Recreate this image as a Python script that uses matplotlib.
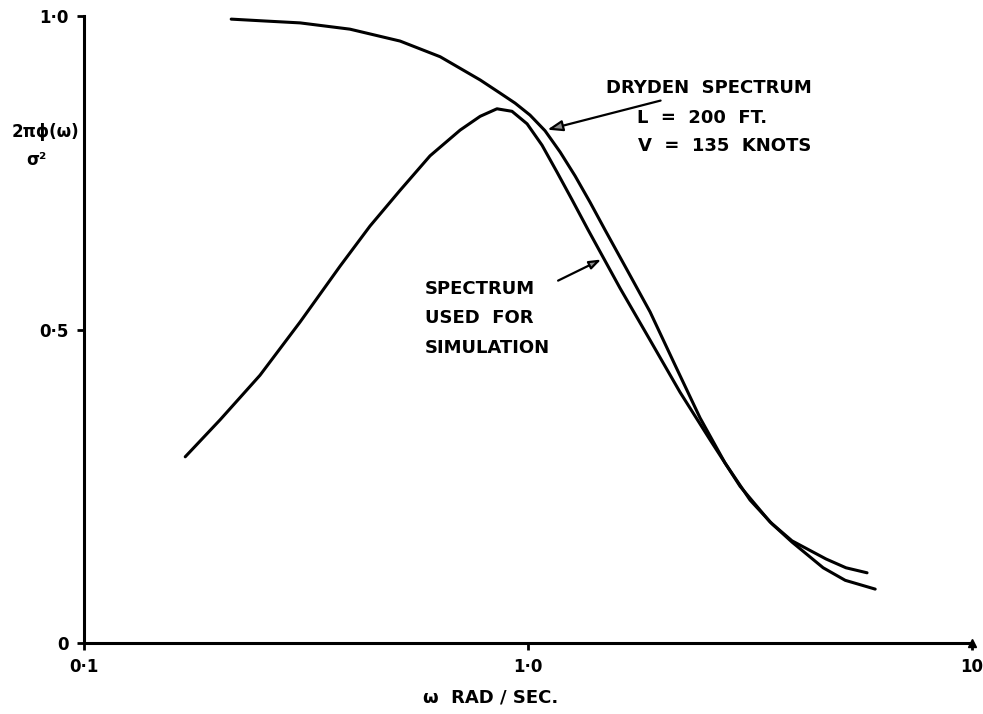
import matplotlib
matplotlib.use("Agg")
import matplotlib.pyplot as plt
import numpy as np

# Dryden spectrum, L = 200 ft, V = 135 knots (normalised 2*pi*phi/sigma^2)
dryden_w = [0.2145, 0.2557, 0.3066, 0.397, 0.515, 0.634, 0.780, 0.865, 0.935,
            1.010, 1.092, 1.181, 1.276, 1.379, 1.49, 1.680, 1.883, 2.144, 2.44,
            2.778, 3.162, 3.544, 3.93, 4.62, 5.18, 6.05]
dryden_s = [0.995, 0.992, 0.989, 0.979, 0.960, 0.935, 0.898, 0.877, 0.861,
            0.842, 0.817, 0.783, 0.745, 0.703, 0.659, 0.592, 0.528, 0.443, 0.359,
            0.287, 0.228, 0.190, 0.161, 0.120, 0.100, 0.086]

# spectrum used for the simulation
sim_w = [0.169, 0.2025, 0.249, 0.3066, 0.3772, 0.4406, 0.515, 0.6015, 0.703,
         0.780, 0.851, 0.920, 0.995, 1.075, 1.162, 1.256, 1.365, 1.611, 1.883,
         2.199, 2.570, 3.002, 3.508, 3.93, 4.69, 5.20, 5.80]
sim_s = [0.297, 0.356, 0.427, 0.512, 0.601, 0.665, 0.722, 0.777, 0.818,
         0.840, 0.852, 0.848, 0.828, 0.794, 0.751, 0.707, 0.659, 0.566, 0.483,
         0.400, 0.324, 0.250, 0.193, 0.163, 0.134, 0.120, 0.112]

x_ticks = [0.1, 1.0, 10]
x_ticklabels = ["0·1", "1·0", "10"]
y_ticks = [0, 0.5, 1.0]
y_ticklabels = ["0", "0·5", "1·0"]

plt.rcParams["font.family"] = ["DejaVu Sans"]

fig = plt.figure(figsize=(9.83, 7.14), dpi=100)
ax = fig.add_axes([0.0855, 0.0994, 0.9034, 0.8782])

ax.plot(dryden_w, dryden_s, color="black", lw=2.2,
        solid_capstyle="round", solid_joinstyle="round")
ax.plot(sim_w, sim_s, color="black", lw=2.2,
        solid_capstyle="round", solid_joinstyle="round")

ax.set_xscale("log")
ax.set_xlim(0.1, 10)
ax.set_ylim(0, 1.0)
ax.minorticks_off()
ax.set_xticks(x_ticks)
ax.set_xticklabels(x_ticklabels, fontsize=12, fontweight="bold")
ax.set_yticks(y_ticks)
ax.set_yticklabels(y_ticklabels, fontsize=12, fontweight="bold")
ax.tick_params(direction="out", length=5, width=2, pad=6)

for side in ("top", "right"):
    ax.spines[side].set_visible(False)
for side in ("left", "bottom"):
    ax.spines[side].set_linewidth(2.2)

# arrowhead at the end of the frequency axis
ax.plot(1, 0, marker="^", color="black", markersize=6,
        transform=ax.transAxes, clip_on=False)

txt = dict(fontsize=13, fontweight="bold", color="black")
head = dict(arrowstyle="-|>,head_length=0.7,head_width=0.25", color="black",
            lw=1.6, fc="0.55")

# arrow tips sit on the curves
w_d = 1.09
tip_d = np.interp(np.log10(w_d), np.log10(dryden_w), dryden_s)
ax.annotate("DRYDEN  SPECTRUM", xy=(w_d, tip_d), xytext=(0.588, 0.885),
            textcoords="axes fraction", va="center", ha="left",
            arrowprops=head, **txt)
ax.text(0.623, 0.837, "L  =  200  FT.", transform=ax.transAxes, va="center", **txt)
ax.text(0.624, 0.793, "V  =  135  KNOTS", transform=ax.transAxes, va="center", **txt)

w_s = 1.48
tip_s = np.interp(np.log10(w_s), np.log10(sim_w), sim_s)
ax.annotate("", xy=(w_s, tip_s), xytext=(0.531, 0.576),
            textcoords="axes fraction", arrowprops=head)
ax.text(0.384, 0.565, "SPECTRUM", transform=ax.transAxes, va="center", **txt)
ax.text(0.384, 0.519, "USED  FOR", transform=ax.transAxes, va="center", **txt)
ax.text(0.384, 0.471, "SIMULATION", transform=ax.transAxes, va="center", **txt)

# axis titles
fig.text(0.046, 1 - 132 / 714, "2πϕ(ω)", ha="center", va="center",
         fontsize=12, fontweight="bold")
fig.text(0.037, 1 - 160 / 714, "σ²", ha="center", va="center",
         fontsize=12, fontweight="bold")
fig.text(491 / 983, 1 - 698 / 714, "ω  RAD / SEC.", ha="center", va="center",
         fontsize=13, fontweight="bold")

fig.savefig("out.png", dpi=100, facecolor="white")
